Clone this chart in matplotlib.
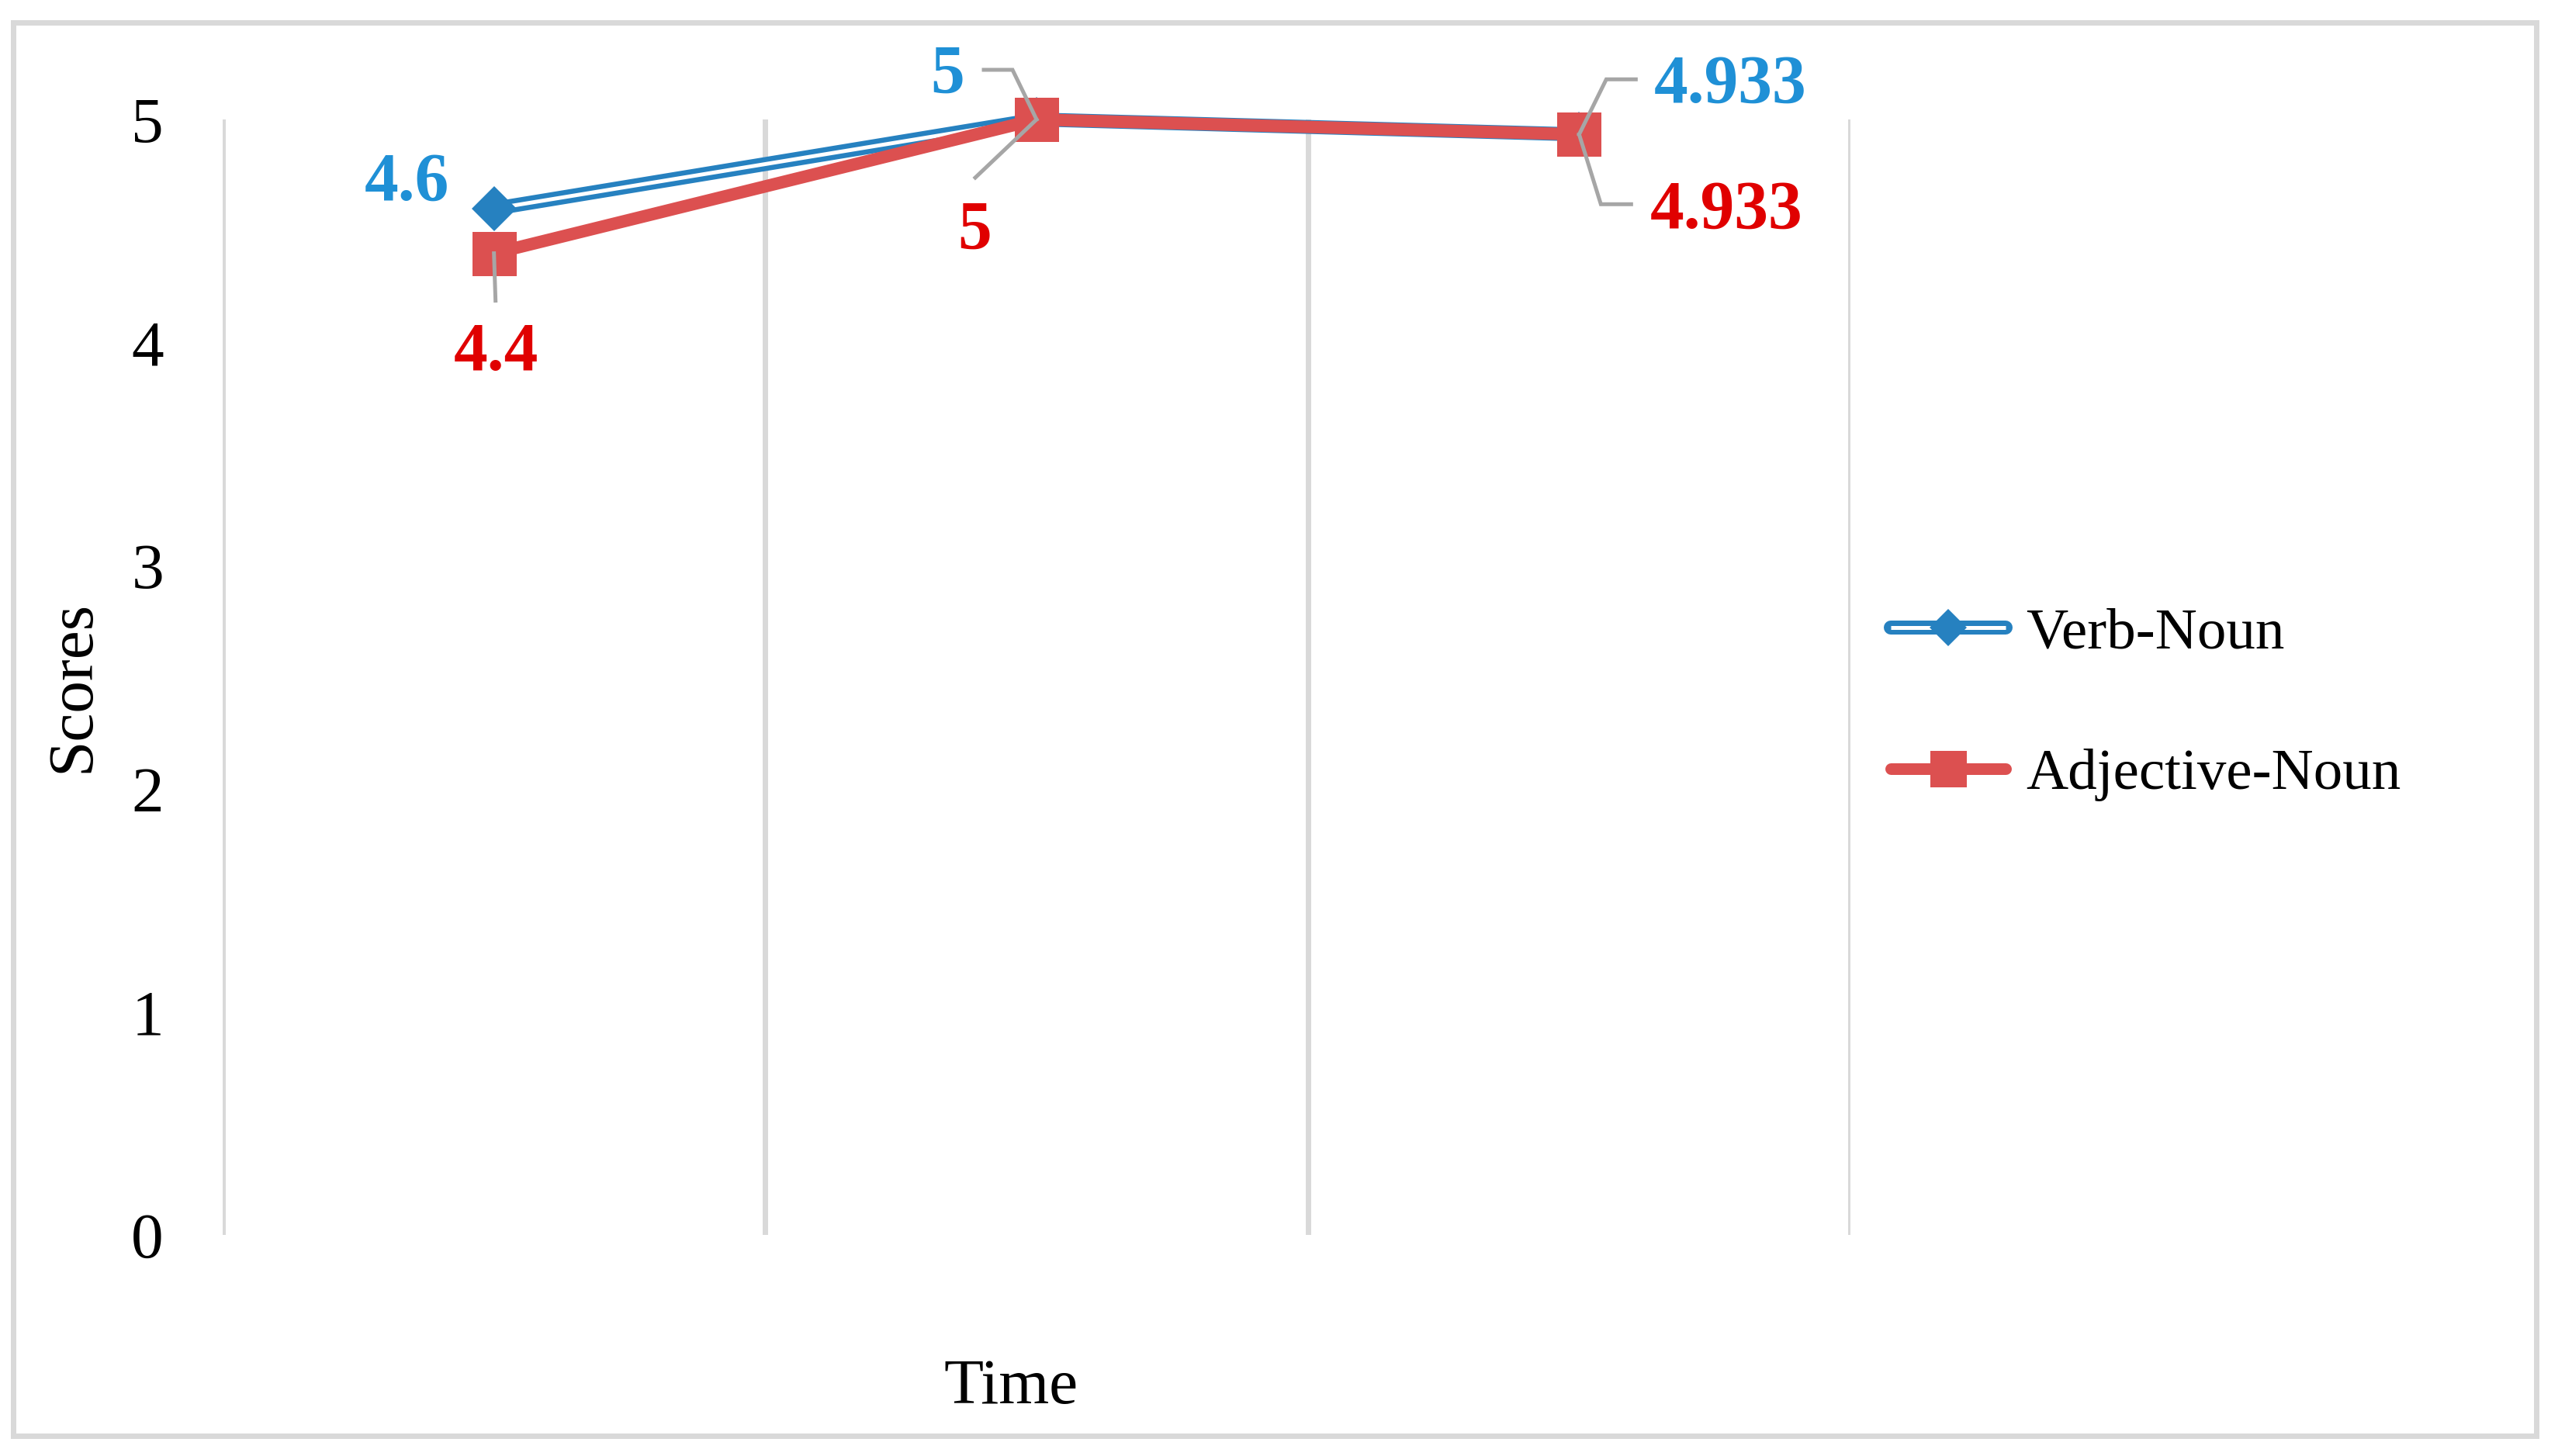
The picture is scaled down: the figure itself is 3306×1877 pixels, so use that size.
import matplotlib
matplotlib.use("Agg")
import matplotlib.pyplot as plt
from matplotlib.lines import Line2D
from matplotlib.patches import Rectangle
from matplotlib.legend_handler import HandlerTuple
from matplotlib.transforms import ScaledTranslation

# ---------------- data ----------------
categories = ["T1", "T2", "T3"]
verb_noun = [4.6, 5.0, 4.933]
adj_noun = [4.4, 5.0, 4.933]
verb_labels = ["4.6", "5", "4.933"]
adj_labels = ["4.4", "5", "4.933"]
series_names = ["Verb-Noun", "Adjective-Noun"]
y_ticks = [0, 1, 2, 3, 4, 5]

# ---------------- style ----------------
W, H, DPI = 3306, 1877, 300
BLUE = "#2681C0"
BLUE_TXT = "#1F90D6"
RED = "#DC5050"
RED_TXT = "#E00000"
GRID = "#D9D9D9"
LEADER = "#A6A6A6"
SERIF = ["Liberation Serif", "DejaVu Serif"]
PX = 72.0 / DPI  # points per pixel

plt.rcParams["font.family"] = SERIF

fig = plt.figure(figsize=(W / DPI, H / DPI), dpi=DPI)
ax = fig.add_axes([287 / W, 1 - 1592 / H, (2385 - 287) / W, (1592 - 154) / H])

x = list(range(1, len(categories) + 1))

# Verb-Noun: compound (double) line
ax.plot(x, verb_noun, color=BLUE, lw=18 * PX, solid_joinstyle="miter", zorder=3, clip_on=False)
ax.plot(x, verb_noun, color="white", lw=5 * PX, zorder=3.1, clip_on=False)
ax.plot(x, verb_noun, ls="none", marker="D", ms=41 * PX, color=BLUE, mec=BLUE, mew=0,
        zorder=3.2, clip_on=False)
# Adjective-Noun
ax.plot(x, adj_noun, color=RED, lw=16 * PX, marker="s", ms=57 * PX, mec=RED, mew=0,
        zorder=4, clip_on=False)

ax.set_xlim(0.5, len(categories) + 0.5)
ax.set_ylim(0, 5)
ax.set_yticks(y_ticks)
ax.set_yticklabels([str(t) for t in y_ticks], fontsize=20)
ax.set_xticks([i + 0.5 for i in range(0, len(categories) + 1)])
ax.set_xticklabels([])
ax.tick_params(axis="both", length=0)
ax.tick_params(axis="y", pad=76 * PX)
ax.grid(axis="x", color=GRID, lw=7 * PX)
ax.grid(axis="y", visible=False)
for s in ax.spines.values():
    s.set_visible(False)
ax.set_axisbelow(True)

# ---------------- data labels with leader lines ----------------
# offsets in pixels relative to the point (label centre; y up), leader vertices
vn_label_off = [(-112, 37), (-115, 61), (195, 68)]
vn_leaders = [None, [(0, 0), (-31, 64), (-68, 64)], [(0, 0), (35, 71), (73, 71)]]
an_label_off = [(3, -124), (-80, -140), (190, -94)]
an_leaders = [[(0, 0), (2, -61)], [(0, 0), (-79, -75)], [(0, 0), (28, -90), (67, -90)]]

HALF_DIGIT = 26  # px from glyph centre to baseline


def place(vals, labels, offs, leaders, color):
    for xi, yi, lab, off, lead in zip(x, vals, labels, offs, leaders):
        ax.annotate(lab, xy=(xi, yi), xytext=(off[0] * PX, (off[1] - HALF_DIGIT) * PX),
                    textcoords="offset points", ha="center", va="baseline",
                    fontsize=21, fontweight="bold", color=color, zorder=6,
                    annotation_clip=False)
        if lead:
            tr = fig.dpi_scale_trans + ScaledTranslation(xi, yi, ax.transData)
            ln = Line2D([p[0] / DPI for p in lead], [p[1] / DPI for p in lead],
                        transform=tr, color=LEADER, lw=5 * PX, zorder=5,
                        solid_joinstyle="miter", clip_on=False)
            ax.add_artist(ln)


place(verb_noun, verb_labels, vn_label_off, vn_leaders, BLUE_TXT)
place(adj_noun, adj_labels, an_label_off, an_leaders, RED_TXT)

# ---------------- legend ----------------
vn_handle = (
    Line2D([], [], color=BLUE, lw=18 * PX, solid_capstyle="round"),
    Line2D([], [], color="white", lw=5 * PX, solid_capstyle="butt"),
    Line2D([], [], ls="none", marker="D", ms=34 * PX, color=BLUE, mew=0),
)
an_handle = (
    Line2D([], [], color=RED, lw=15 * PX, solid_capstyle="round"),
    Line2D([], [], ls="none", marker="s", ms=47 * PX, color=RED, mew=0),
)
fig.legend([vn_handle, an_handle], series_names,
           handler_map={tuple: HandlerTuple(ndivide=1)},
           loc="center left", bbox_to_anchor=(2437 / W, 1 - 908 / H),
           frameon=False, fontsize=18, handlelength=1.97, handletextpad=0.35,
           borderpad=0, borderaxespad=0, labelspacing=1.51)

# ---------------- axis titles ----------------
fig.text(95 / W, 1 - 885 / H, "Scores", rotation=90, ha="center", va="center", fontsize=20)
fig.text(1303 / W, 1 - 1789 / H, "Time", ha="center", va="center", fontsize=20)

# ---------------- outer border ----------------
fig.patches.append(Rectangle((17 / W, 1 - 1851 / H), (3269 - 17) / W, (1851 - 29) / H,
                             transform=fig.transFigure, fill=False, ec=GRID, lw=7 * PX))

fig.savefig("out.png", dpi=DPI)
